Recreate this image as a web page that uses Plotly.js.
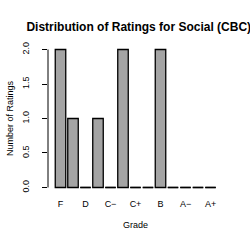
<!DOCTYPE html>
<html>
<head>
<meta charset="utf-8">
<script src="https://cdn.plot.ly/plotly-3.0.1.min.js"></script>
<style>html,body{margin:0;padding:0;background:#fff;}#chart{width:250px;height:250px;}</style>
</head>
<body>
<div id="chart"></div>
<script>
const grades = ['F','D−','D','D+','C−','C','C+','B−','B','B+','A−','A','A+'];
const counts = [2,1,0,1,0,2,0,0,2,0,0,0,0];
const shownLabels = ['F','D','C−','C+','B','A−','A+'];
const yTicks = [0,0.5,1,1.5,2];
const yTickText = ['0.0','0.5','1.0','1.5','2.0'];

const idx = grades.map((g,i)=>i);
const halfW = 0.42;
// outline segments for zero-height bars
const zx = [], zy = [];
counts.forEach((c,i)=>{ if(c===0){ zx.push(i-halfW,i+halfW,null); zy.push(0,0,null);} });

const font = "Liberation Sans, Arial, sans-serif";
const data = [
  {type:'bar', x: idx, y: counts, width: halfW*2,
   marker:{color:'#a4a4a4', line:{color:'#000', width:1.3}}, hoverinfo:'none'},
  {type:'scatter', mode:'lines', x: zx, y: zy, line:{color:'#000', width:1.3}, hoverinfo:'none'}
];
const layout = {
  width:250, height:250, showlegend:false,
  paper_bgcolor:'#fff', plot_bgcolor:'#fff',
  margin:{l:48, r:27, t:44, b:57},
  font:{family:font, color:'#000', size:9},
  title:{text:'Distribution of Ratings for Social (CBC)', font:{family:font, size:12, weight:'bold', color:'#000'}, x:0.555, xanchor:'center', y:0.892, yanchor:'middle'},
  xaxis:{range:[-1,13], tickvals: shownLabels.map(l=>grades.indexOf(l)), ticktext: shownLabels,
         showgrid:false, zeroline:false, showline:false, ticks:'', ticklen:0, ticklabelstandoff:4,
         tickfont:{size:9, color:'#000'}, title:{text:'Grade', font:{size:9, color:'#000'}, standoff:13}},
  yaxis:{range:[-0.08,2.08], tickvals:yTicks, ticktext:yTickText, tickangle:-90,
         showgrid:false, zeroline:false, showline:false, ticks:'outside', ticklen:5, tickwidth:1, tickcolor:'#000',
         ticklabelstandoff:9,
         tickfont:{size:9, color:'#000'}, title:{text:'Number of Ratings', font:{size:9, color:'#000'}, standoff:6}},
  shapes:[{type:'line', xref:'paper', yref:'y', x0:0, x1:0, y0:yTicks[0], y1:yTicks[yTicks.length-1], line:{color:'#000', width:1}}]
};
Plotly.newPlot('chart', data, layout, {displayModeBar:false, staticPlot:true});
</script>
</body>
</html>
